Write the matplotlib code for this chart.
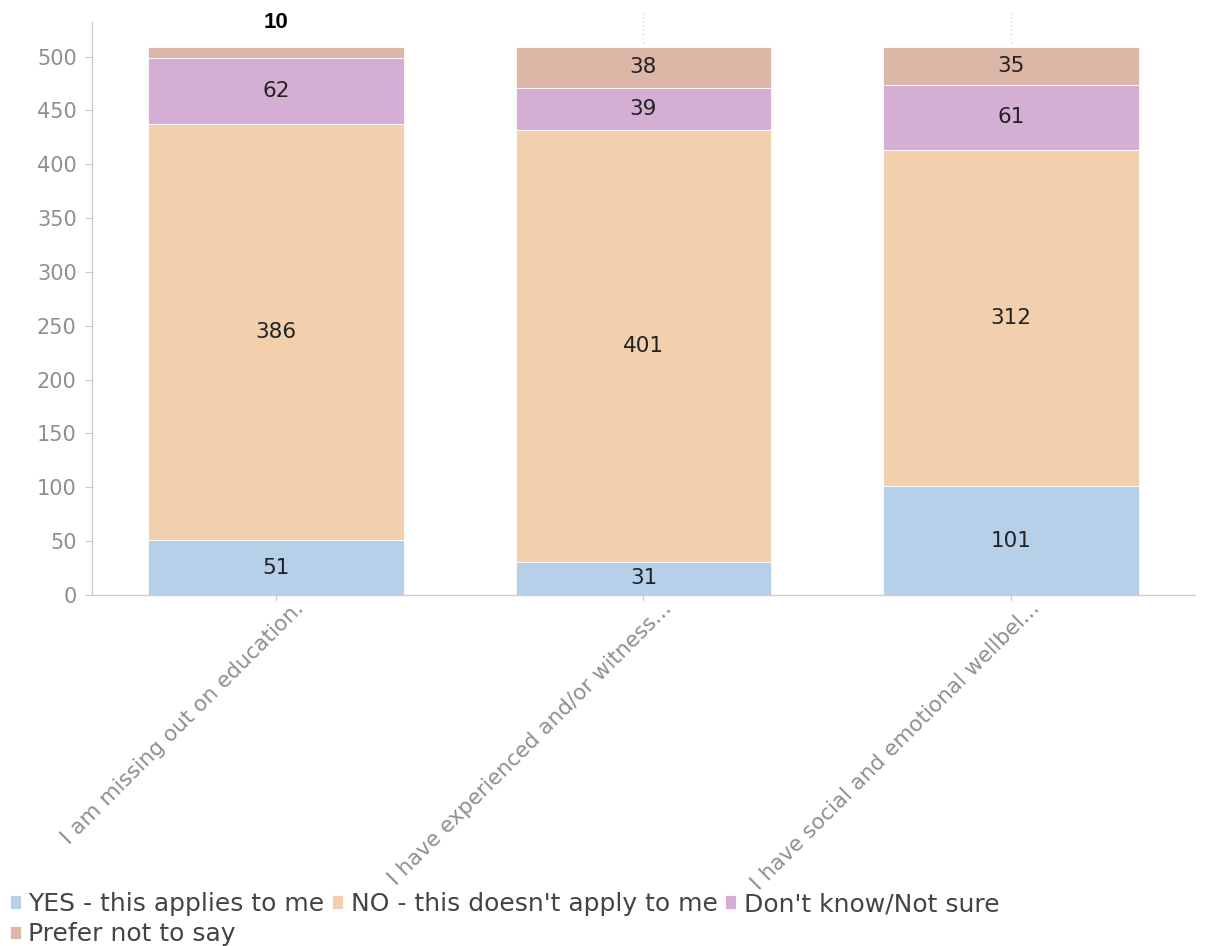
import matplotlib
matplotlib.use("Agg")
import matplotlib.pyplot as plt
import numpy as np

categories = [
    "I am missing out on education.",
    "I have experienced and/or witness...",
    "I have social and emotional wellbel...",
]
series_names = [
    "YES - this applies to me",
    "NO - this doesn't apply to me",
    "Don't know/Not sure",
    "Prefer not to say",
]
yes_values = [51, 31, 101]
no_values = [386, 401, 312]
dont_know_values = [62, 39, 61]
prefer_not_values = [10, 38, 35]
yticks = [0, 50, 100, 150, 200, 250, 300, 350, 400, 450, 500]

colors = ["#b6d0ea", "#f2cfad", "#d4afd3", "#dcb6a6"]
grey = "#8f8f8f"

fig = plt.figure(figsize=(12.05, 9.46), dpi=100)
ax = fig.add_axes([0.0763, 0.371, 0.9154, 0.6057])

x = np.arange(len(categories))
width = 0.695
series = [yes_values, no_values, dont_know_values, prefer_not_values]
bottoms = np.zeros(len(categories))
handles = []
for name, vals, col in zip(series_names, series, colors):
    vals = np.array(vals, dtype=float)
    bars = ax.bar(x, vals, width, bottom=bottoms, color=col, label=name,
                  edgecolor="white", linewidth=0.6)
    handles.append(bars)
    for xi, b, v in zip(x, bottoms, vals):
        if v >= 20:
            ax.text(xi, b + v / 2, f"{int(v)}", ha="center", va="center",
                    fontsize=15.5, color="#222222", family="DejaVu Sans")
    bottoms = bottoms + vals

# small segment label placed above the first bar
ax.text(x[0], bottoms[0] + 23, f"{prefer_not_values[0]}", ha="center",
        va="center", fontsize=16, fontweight="bold", color="black",
        family="Liberation Sans",
        bbox=dict(facecolor="white", edgecolor="none", pad=5), clip_on=False)

# faint leader lines above the other bars
for xi in x[1:]:
    ax.plot([xi, xi], [bottoms[xi] + 4, bottoms[xi] + 32], color="#d8d8d8",
            linestyle=(0, (1, 2)), linewidth=1, clip_on=False)

ax.set_xlim(-0.5, 2.5)
ax.set_ylim(0, 532)
ax.set_yticks(yticks)
ax.set_yticklabels([str(t) for t in yticks], fontsize=15, color=grey,
                   family="DejaVu Sans")
ax.set_xticks(x)
ax.set_xticklabels([])
ax.tick_params(axis="y", length=5, color="#cccccc", pad=6)
ax.tick_params(axis="x", length=4, color="#cccccc")

# rotated category labels, ending just right of each tick
for xi, cat in zip(x, categories):
    ax.annotate(cat, xy=(xi, 0), xycoords=("data", "axes fraction"),
                xytext=(13, -2), textcoords="offset points",
                rotation=45, ha="right", va="top", rotation_mode="anchor",
                fontsize=15.5, color=grey, family="DejaVu Sans")

for side in ["top", "right"]:
    ax.spines[side].set_visible(False)
for side in ["left", "bottom"]:
    ax.spines[side].set_color("#cccccc")
    ax.spines[side].set_linewidth(1)

order = [0, 3, 1, 2]
leg = fig.legend([handles[i] for i in order], [series_names[i] for i in order],
                 loc="upper left", bbox_to_anchor=(0.008, 0.057), ncol=3,
                 frameon=False, fontsize=18, handlelength=0.45,
                 handleheight=0.45, handletextpad=0.3, columnspacing=0.3,
                 labelspacing=0.25, borderaxespad=0, borderpad=0)
for t in leg.get_texts():
    t.set_color("#444444")

fig.savefig("out.png", dpi=100, facecolor="white")
